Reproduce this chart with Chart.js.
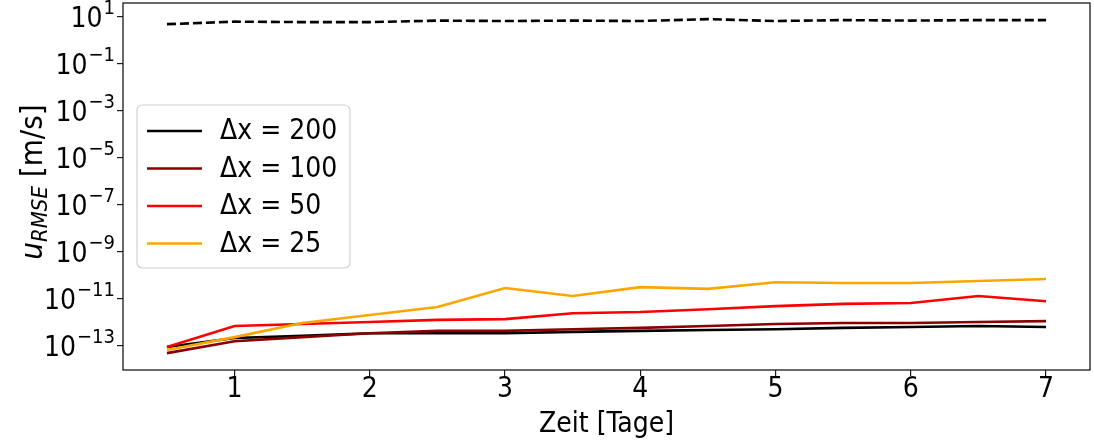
<!DOCTYPE html>
<html>
<head>
<meta charset="utf-8">
<script src="https://cdn.jsdelivr.net/npm/chart.js@4.4.1/dist/chart.umd.min.js"></script>
<style>
  html, body { margin: 0; padding: 0; background: #fff; }
  #wrap { width: 1094px; height: 442px; }
</style>
</head>
<body>
<div id="wrap"><canvas id="c" width="1094" height="442"></canvas></div>
<script>
// ---- data ----
const xValues = [0.5, 1, 1.5, 2, 2.5, 3, 3.5, 4, 4.5, 5, 5.5, 6, 6.5, 7];
const seriesLabels = ['Δx = 200', 'Δx = 100', 'Δx = 50', 'Δx = 25'];
const dx200 = [9.1e-14, 2.2e-13, 2.7e-13, 3.5e-13, 3.5e-13, 3.5e-13, 4.0e-13, 4.4e-13, 4.8e-13, 5.2e-13, 5.9e-13, 6.5e-13, 7.1e-13, 6.5e-13];
const dx100 = [5.0e-14, 1.6e-13, 2.4e-13, 3.5e-13, 4.4e-13, 4.4e-13, 5.2e-13, 5.9e-13, 7.1e-13, 8.7e-13, 9.5e-13, 9.5e-13, 1.05e-12, 1.15e-12];
const dx50  = [9.1e-14, 7.1e-13, 8.7e-13, 1.05e-12, 1.3e-12, 1.4e-12, 2.5e-12, 2.8e-12, 3.7e-12, 5.0e-12, 6.2e-12, 6.8e-12, 1.35e-11, 8.1e-12];
const dx25  = [6.8e-14, 2.4e-13, 9.5e-13, 2.1e-12, 4.6e-12, 2.95e-11, 1.35e-11, 3.2e-11, 2.7e-11, 5.2e-11, 4.8e-11, 4.8e-11, 5.9e-11, 7.1e-11];
const reference = [5.0, 6.4, 6.1, 6.1, 7.1, 6.8, 7.1, 6.8, 8.2, 6.8, 7.45, 7.1, 7.45, 7.45];
const xTicks = [1, 2, 3, 4, 5, 6, 7];
const yTickExponents = [1, -1, -3, -5, -7, -9, -11, -13];
const xTitle = 'Zeit [Tage]';
const yTitleMain = 'u';
const yTitleSub = 'RMSE';
const yTitleUnit = ' [m/s]';

const FONT = '"DejaVu Sans Condensed", "DejaVu Sans", sans-serif';
const colors = ['#000000', '#8b0000', '#ff0000', '#ffa500'];

function pts(arr) { return xValues.map((x, i) => ({ x: x, y: arr[i] })); }

const allSeries = [dx200, dx100, dx50, dx25];
const datasets = allSeries.map((arr, i) => ({
  label: seriesLabels[i],
  data: pts(arr),
  borderColor: colors[i],
  backgroundColor: colors[i],
  borderWidth: 2.6,
  pointRadius: 0,
  tension: 0,
  order: 4 - i
}));
datasets.push({
  label: 'ref',
  data: pts(reference),
  borderColor: '#000',
  borderWidth: 2.6,
  borderDash: [9, 4],
  pointRadius: 0,
  tension: 0,
  order: 6
});

const overlay = {
  id: 'overlay',
  afterDraw(chart) {
    const ctx = chart.ctx;
    const a = chart.chartArea;
    const ys = chart.scales.y;
    ctx.save();
    // frame
    ctx.strokeStyle = '#1a1a1a';
    ctx.lineWidth = 1.3;
    ctx.strokeRect(a.left, a.top, a.right - a.left, a.bottom - a.top);

    // y tick labels 10^n
    ctx.fillStyle = '#000';
    ctx.textBaseline = 'alphabetic';
    yTickExponents.forEach(e => {
      const py = ys.getPixelForValue(Math.pow(10, e));
      const expStr = (e < 0 ? '\u2212' : '') + Math.abs(e);
      ctx.font = '20px ' + FONT;
      const ew = ctx.measureText(expStr).width;
      const right = a.left - 8;
      ctx.textAlign = 'right';
      ctx.fillText(expStr, right, py - 3);
      ctx.font = '28px ' + FONT;
      ctx.fillText('10', right - ew - 1, py + 10);
    });

    // y title (rotated)
    ctx.save();
    ctx.translate(42, 182);
    ctx.rotate(-Math.PI / 2);
    ctx.font = 'italic 31px ' + FONT;
    const w1 = ctx.measureText(yTitleMain).width;
    ctx.font = 'italic 22px ' + FONT;
    const w2 = ctx.measureText(yTitleSub).width;
    ctx.font = '31px ' + FONT;
    const w3 = ctx.measureText(yTitleUnit).width;
    let x0 = -(w1 + w2 + w3) / 2;
    ctx.textAlign = 'left';
    ctx.font = 'italic 31px ' + FONT;
    ctx.fillText(yTitleMain, x0, 0);
    ctx.font = 'italic 22px ' + FONT;
    ctx.fillText(yTitleSub, x0 + w1, 5);
    ctx.font = '31px ' + FONT;
    ctx.fillText(yTitleUnit, x0 + w1 + w2, 0);
    ctx.restore();

    // legend
    const lx = a.left + 14, ly = 105, lw = 213, lh = 163, r = 6;
    ctx.beginPath();
    ctx.moveTo(lx + r, ly);
    ctx.lineTo(lx + lw - r, ly);
    ctx.quadraticCurveTo(lx + lw, ly, lx + lw, ly + r);
    ctx.lineTo(lx + lw, ly + lh - r);
    ctx.quadraticCurveTo(lx + lw, ly + lh, lx + lw - r, ly + lh);
    ctx.lineTo(lx + r, ly + lh);
    ctx.quadraticCurveTo(lx, ly + lh, lx, ly + lh - r);
    ctx.lineTo(lx, ly + r);
    ctx.quadraticCurveTo(lx, ly, lx + r, ly);
    ctx.closePath();
    ctx.fillStyle = 'rgba(255,255,255,0.85)';
    ctx.fill();
    ctx.strokeStyle = '#d0d0d0';
    ctx.lineWidth = 1.2;
    ctx.stroke();
    seriesLabels.forEach((lab, i) => {
      const cy = ly + 26 + i * 37.5;
      ctx.strokeStyle = colors[i];
      ctx.lineWidth = 2.6;
      ctx.beginPath();
      ctx.moveTo(lx + 10, cy);
      ctx.lineTo(lx + 65, cy);
      ctx.stroke();
      ctx.fillStyle = '#000';
      ctx.font = '28px ' + FONT;
      ctx.textAlign = 'left';
      ctx.textBaseline = 'middle';
      ctx.fillText(lab, lx + 83, cy + 1);
    });
    ctx.restore();
  }
};

new Chart(document.getElementById('c'), {
  type: 'line',
  data: { datasets: datasets },
  options: {
    responsive: false,
    animation: false,
    events: [],
    layout: { padding: { top: 3, right: 4, left: 0, bottom: 0 } },
    plugins: { legend: { display: false }, tooltip: { enabled: false } },
    scales: {
      x: {
        type: 'linear',
        min: 0.175,
        max: 7.325,
        afterBuildTicks(s) { s.ticks = xTicks.map(v => ({ value: v })); },
        afterFit(s) { s.height = 72; },
        grid: { drawOnChartArea: false, drawTicks: true, tickLength: 6, color: '#1a1a1a', lineWidth: 1.2 },
        border: { display: false },
        ticks: { color: '#000', font: { family: FONT, size: 28 }, padding: -3, maxRotation: 0, autoSkip: false,
                 callback: v => String(v) },
        title: { display: true, text: xTitle, color: '#000', font: { family: FONT, size: 28 }, padding: { top: 0, bottom: 0 } }
      },
      y: {
        type: 'logarithmic',
        min: Math.pow(10, -14.02),
        max: Math.pow(10, 1.6),
        bounds: 'data',
        afterBuildTicks(s) { s.ticks = yTickExponents.map(e => ({ value: Math.pow(10, e) })); },
        afterFit(s) { s.width = 123; s.paddingTop = 0; s.paddingBottom = 0; },
        grid: { drawOnChartArea: false, drawTicks: true, tickLength: 6, color: '#1a1a1a', lineWidth: 1.2 },
        border: { display: false },
        ticks: { callback: () => '', autoSkip: false, font: { size: 1 }, padding: 0 }
      }
    }
  },
  plugins: [overlay]
});
</script>
</body>
</html>
